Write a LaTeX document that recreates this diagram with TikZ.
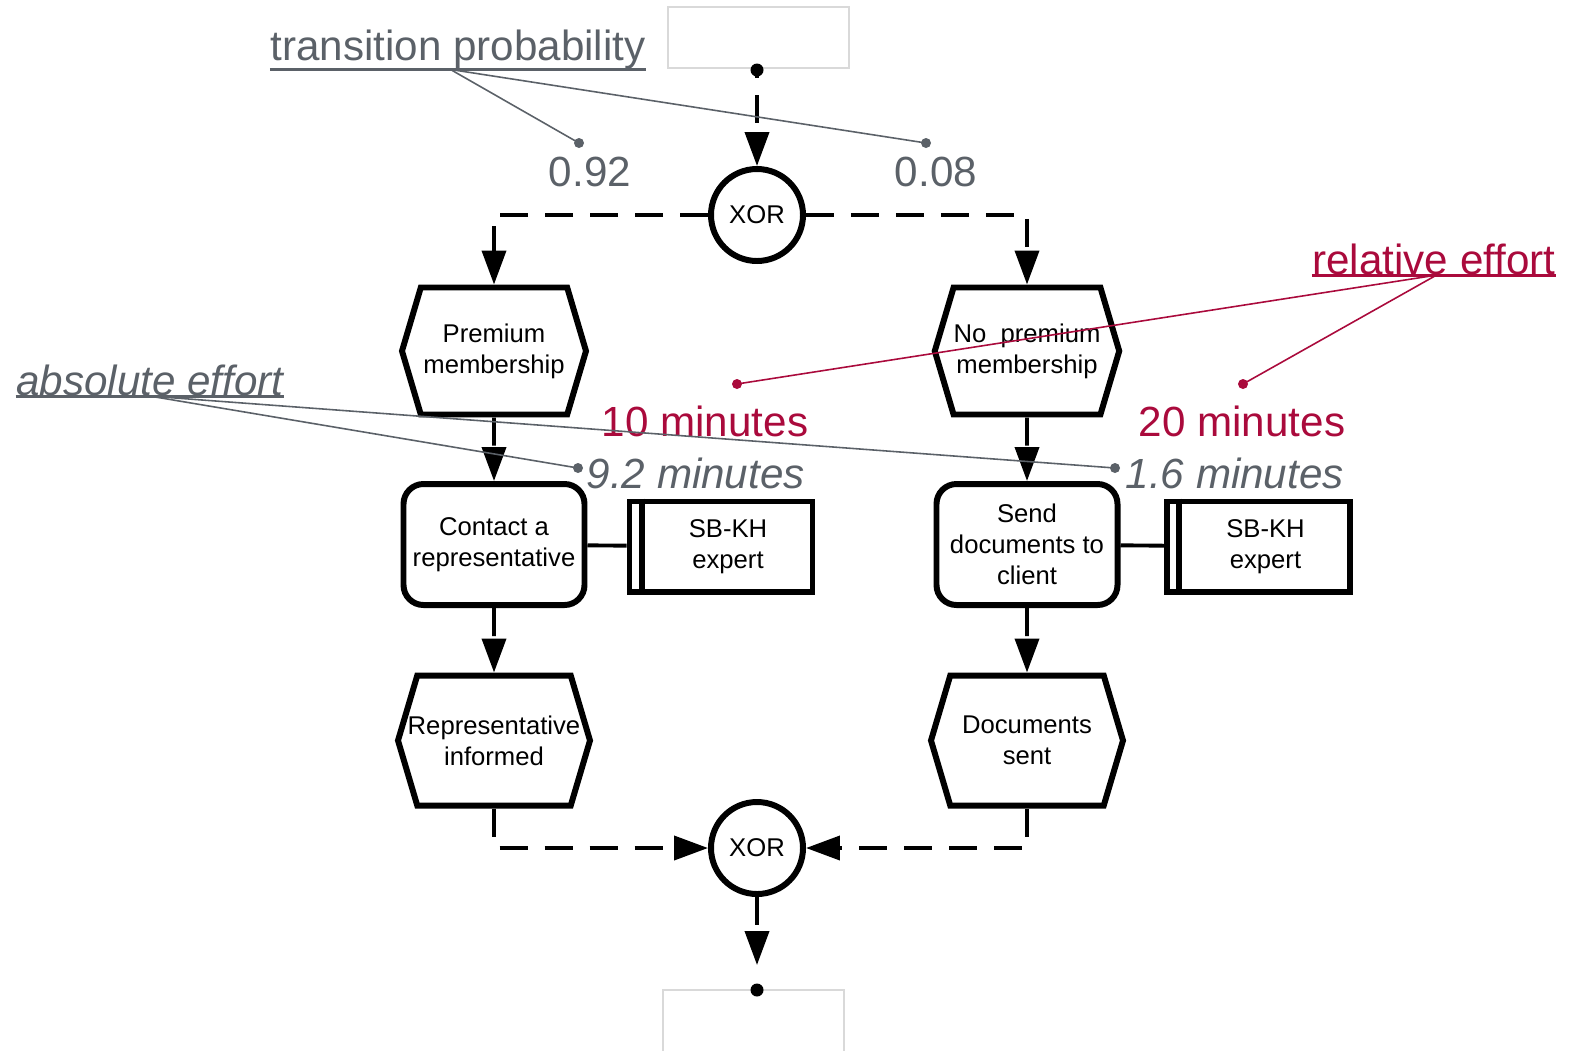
\documentclass[tikz,border=0pt]{standalone}
\usepackage{fontspec}
\setmainfont{Liberation Sans}
\usepackage{xcolor}
\usetikzlibrary{shapes.symbols, arrows.meta, calc}

\definecolor{notegray}{HTML}{5B6168}
\definecolor{notered}{HTML}{AA0A3C}

\begin{document}
\begin{tikzpicture}[
    event/.style={signal, signal to=west and east, signal pointer angle=147, draw=black, fill=white, line width=1.7pt, minimum width=1.84cm, minimum height=1.27cm, inner sep=0pt, align=center, font=\fontsize{7.3}{8.8}\selectfont},
    func/.style={rectangle, rounded corners=0.2cm, draw=black, fill=white, line width=1.7pt, minimum width=1.81cm, minimum height=1.21cm, inner sep=0pt, align=center, font=\fontsize{7.3}{8.8}\selectfont},
    orgunit/.style={rectangle, draw=black, fill=white, line width=1.7pt, minimum width=1.83cm, minimum height=0.9cm, inner sep=0pt, align=center, font=\fontsize{7.3}{8.8}\selectfont},
    xorgate/.style={circle, draw=black, fill=white, line width=1.7pt, minimum size=0.92cm, inner sep=0pt, font=\fontsize{7.3}{8.8}\selectfont},
    flow/.style={line width=1.1pt, dash pattern=on 0.28cm off 0.17cm, -{Triangle[length=0.34cm, width=0.24cm]}},
    assoc/.style={line width=1.1pt},
    annot/.style={inner sep=0pt, font=\fontsize{12}{14}\selectfont},
    note/.style={line width=0.45pt},
    uline/.style={line width=0.9pt}
]
\useasboundingbox (0,0) rectangle (15.7,-10.5);

% start and end boxes
\node[rectangle, draw=gray!30, line width=0.4pt, minimum width=1.81cm, minimum height=0.61cm] (start) at (7.585,-0.375) {};
\draw[gray!30, line width=0.4pt] (6.63,-10.6) -- (6.63,-9.90) -- (8.44,-9.90) -- (8.44,-10.6);
\coordinate (dtop) at (7.57,-0.70);
\coordinate (dbot) at (7.57,-9.90);
\coordinate (tbot) at (7.57,-9.65);
\fill (dtop) circle (0.065);
\fill (dbot) circle (0.065);

% gates, events and functions
\node[xorgate] (x1) at (7.57,-2.15) {XOR};
\node[event] (e1) at (4.94,-3.51) {Premium\\membership};
\node[event] (e2) at (10.27,-3.51) {No\ \ premium\\membership};
\node[func] (f1) at (4.94,-5.445) {Contact a\\representative};
\node[func] (f2) at (10.27,-5.445) {Send\\documents to\\client};
\node[orgunit] (o1) at (7.21,-5.465) {\hspace*{0.14cm}SB-KH\\\hspace*{0.14cm}expert};
\node[orgunit] (o2) at (12.585,-5.465) {\hspace*{0.14cm}SB-KH\\\hspace*{0.14cm}expert};
\node[event, minimum width=1.92cm, minimum height=1.30cm] (e3) at (4.94,-7.405) {\makebox[1.45cm][c]{Representative}\\informed};
\node[event, minimum width=1.92cm, minimum height=1.30cm] (e4) at (10.27,-7.405) {Documents\\sent};
\node[xorgate] (x2) at (7.57,-8.48) {XOR};

\draw[line width=1.7pt] ([xshift=0.15cm]o1.north west) -- ([xshift=0.15cm]o1.south west);
\draw[line width=1.7pt] ([xshift=0.15cm]o2.north west) -- ([xshift=0.15cm]o2.south west);

% control flow
\draw[flow, dash phase=0.2cm] (dtop) -- (x1);
\draw[flow] (x1) -| (e1);
\draw[flow] (x1) -| (e2);
\draw[flow] (e1) -- (f1);
\draw[flow] (e2) -- (f2);
\draw[flow] (f1) -- (e3);
\draw[flow] (f2) -- (e4);
\draw[flow] (e3) |- (x2);
\draw[flow] (e4) |- (x2);
\draw[flow] (x2) -- (tbot);
\draw[assoc] (f1) -- (o1);
\draw[assoc] (f2) -- (o2);

% transition probability
\node[annot, text=notegray, anchor=base] (tp) at (4.58,-0.60) {transition probability};
\draw[uline, notegray] (tp.south west) -- (tp.south east);
\coordinate (jtp) at ($(tp.south west)!0.48!(tp.south east)$);
\coordinate (dp1) at (5.79,-1.43);
\coordinate (dp2) at (9.26,-1.43);
\node[annot, text=notegray] (p1) at (5.90,-1.72) {0.92};
\node[annot, text=notegray] (p2) at (9.36,-1.72) {0.08};
\draw[note, notegray] (jtp) -- (dp1);
\draw[note, notegray] (jtp) -- (dp2);
\fill[notegray] (dp1) circle (0.05);
\fill[notegray] (dp2) circle (0.05);

% relative effort
\node[annot, text=notered, anchor=base] (re) at (14.34,-2.74) {relative effort};
\draw[uline, notered] (re.south west) -- (re.south east);
\coordinate (jre) at ($(re.south west)!0.51!(re.south east)$);
\coordinate (dr1) at (7.37,-3.84);
\coordinate (dr2) at (12.43,-3.84);
\node[annot, text=notered] (r1) at (7.05,-4.21) {10 minutes};
\node[annot, text=notered] (r2) at (12.42,-4.21) {20 minutes};
\draw[note, notered] (jre) -- (dr1);
\draw[note, notered] (jre) -- (dr2);
\fill[notered] (dr1) circle (0.05);
\fill[notered] (dr2) circle (0.05);

% absolute effort
\node[annot, text=notegray, anchor=base, font=\fontsize{12}{14}\selectfont\itshape] (ae) at (1.50,-3.95) {absolute effort};
\draw[uline, notegray] (ae.south west) -- (ae.south east);
\coordinate (jae) at ($(ae.south west)!0.5!(ae.south east)$);
\coordinate (da1) at (5.78,-4.68);
\coordinate (da2) at (11.15,-4.68);
\node[annot, text=notegray, anchor=west, font=\fontsize{12}{14}\selectfont\itshape] (a1) at (5.86,-4.73) {9.2 minutes};
\node[annot, text=notegray, anchor=west, font=\fontsize{12}{14}\selectfont\itshape] (a2) at (11.25,-4.73) {1.6 minutes};
\draw[note, notegray] (jae) -- (da1);
\draw[note, notegray] (jae) -- (da2);
\fill[notegray] (da1) circle (0.05);
\fill[notegray] (da2) circle (0.05);
\end{tikzpicture}
\end{document}
